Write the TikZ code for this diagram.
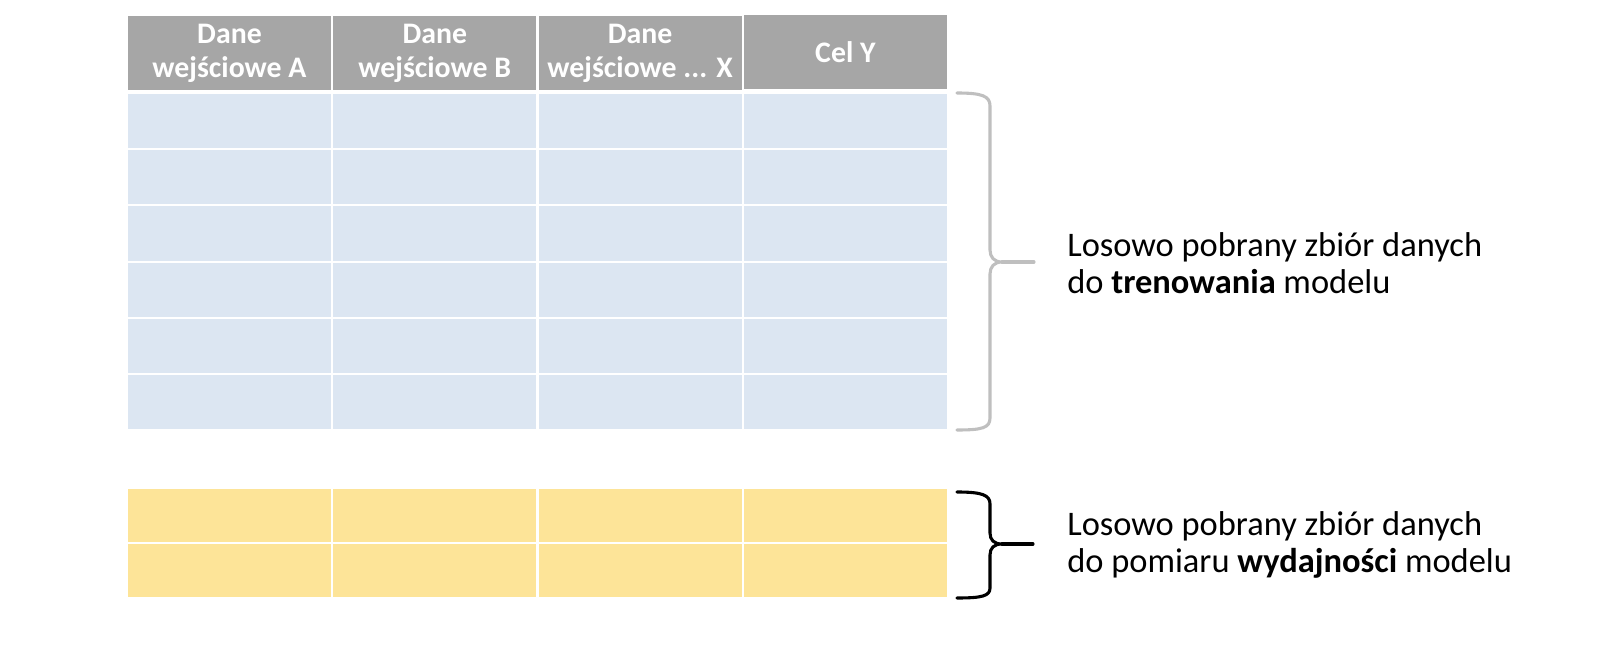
\documentclass[tikz,border=0pt]{standalone}
\usepackage{fontspec}
\setmainfont{Carlito}
\usepackage{xcolor}
\usetikzlibrary{positioning}
\definecolor{headgray}{RGB}{166, 166, 166}
\definecolor{trainblue}{RGB}{220, 230, 242}
\definecolor{testyellow}{RGB}{253, 228, 152}
\definecolor{bracegray}{RGB}{191, 191, 191}

\begin{document}
\begin{tikzpicture}[
        x=0.025cm, y=-0.025cm,
        head/.style={rectangle, fill=headgray, minimum width=5.07cm, minimum height=1.85cm, inner sep=0pt, align=center, text=white, font=\fontsize{21.2}{24}\selectfont\bfseries},
        traincell/.style={rectangle, fill=trainblue, minimum width=5.07cm, minimum height=1.354cm, inner sep=0pt},
        testcell/.style={rectangle, fill=testyellow, minimum width=5.07cm, minimum height=1.325cm, inner sep=0pt},
        curly/.style={line width=2.2pt, line cap=round, line join=round},
        note/.style={anchor=west, inner sep=0pt, align=left, font=\fontsize{24.5}{26}\selectfont}
    ]
        \useasboundingbox (0,0) rectangle (1600,656);

        % Header row
        \node[head] (hA) at (229.5, 53) {Dane\\wejściowe A};
        \node[head] (hB) at (434.8, 53) {Dane\\wejściowe B};
        \node[head] (hX) at (640.1, 53) {Dane\\wejściowe ... X};
        \node[head] (hY) at (845.4, 52) {Cel Y};

        % Training rows (blue)
        \foreach \r in {0,...,5}
            \foreach \c/\x in {A/229.5, B/434.8, X/640.1, Y/845.4}
                \node[traincell] (tr\r\c) at (\x, {121.1+\r*56.17}) {};

        % Test rows (yellow)
        \foreach \r/\y in {0/515.5, 1/570.5}
            \foreach \c/\x in {A/229.5, B/434.8, X/640.1, Y/845.4}
                \node[testcell] (te\r\c) at (\x, \y) {};

        % Braces
        \draw[curly, bracegray] (957,93) .. controls (982,93) and (990,96) .. (990,106) -- (990,250)
            .. controls (990,257) and (994,262) .. (1002,262) .. controls (994,262) and (990,267) .. (990,274)
            -- (990,418) .. controls (990,428) and (982,430) .. (957,430);
        \draw[curly, bracegray] (1002,262) -- (1034,262);

        \draw[curly, black] (957,492) .. controls (982,492) and (990,495) .. (990,504) -- (990,533)
            .. controls (990,540) and (994,544) .. (1002,544) .. controls (994,544) and (990,548) .. (990,555)
            -- (990,588) .. controls (990,596) and (982,598) .. (957,598);
        \draw[curly, black] (1002,544) -- (1033,544);

        % Labels
        \node[note] (trainnote) at (1067, 263) {Losowo pobrany zbiór danych\\do \textbf{trenowania} modelu};
        \node[note] (testnote) at (1067, 545) {Losowo pobrany zbiór danych\\do pomiaru \textbf{wydajności} modelu};
    \end{tikzpicture}
\end{document}
